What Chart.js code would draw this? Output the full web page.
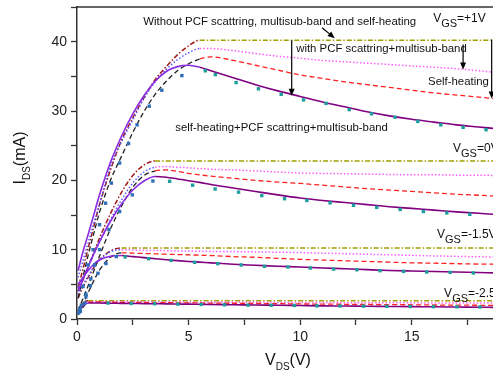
<!DOCTYPE html>
<html><head><meta charset="utf-8">
<script src="https://cdn.jsdelivr.net/npm/chart.js@4.4.1/dist/chart.umd.min.js"></script>
<style>html,body{margin:0;padding:0;background:#fff}</style>
</head><body>
<canvas id="c" width="493" height="376"></canvas>
<script>
// ---- data ----
const xGrid = [0.05,0.25,0.5,0.75,1,1.5,2,2.5,3,3.5,4,4.5,5,5.5,6,7,8,9,10,11,12,13,14,15,16,17,18,18.64];

// VGS = +1 V
const ideal_p1 = [4.5,7.0,10.2,13.3,16.4,21.5,25.8,29.0,31.9,34.5,36.4,38.1,39.4,40.2,40.2,40.2,40.2,40.2,40.2,40.2,40.2,40.2,40.2,40.2,40.2,40.2,40.2,40.2];
const pcf_p1   = [6.0,8.2,11.0,13.8,16.5,22.0,25.6,28.7,31.8,34.2,36.0,37.4,38.4,39.0,39.0,38.7,38.3,37.9,37.6,37.3,37.1,36.9,36.7,36.5,36.3,36.1,35.8,35.6];
const heat_p1  = [3.0,5.8,9.2,12.3,15.3,20.0,23.5,26.9,29.9,32.4,34.3,35.8,36.8,37.5,37.8,37.3,36.6,35.9,35.2,34.7,34.2,33.8,33.4,33.0,32.6,32.3,32.0,31.8];
const full_p1  = [7.0,9.5,12.2,15.0,17.8,22.6,26.4,29.6,32.2,34.3,35.7,36.4,36.6,36.3,35.8,34.8,33.8,32.9,32.1,31.3,30.6,29.9,29.3,28.8,28.4,28.0,27.7,27.5];
// VGS = 0 V
const ideal_0 = [4.0,5.5,7.5,9.6,11.6,15.2,18.3,20.7,22.2,22.8,22.8,22.8,22.8,22.8,22.8,22.8,22.8,22.8,22.8,22.8,22.8,22.8,22.8,22.8,22.8,22.8,22.8,22.8];
const pcf_0   = [4.5,5.8,7.5,9.3,11.0,14.3,17.2,19.6,21.2,21.9,22.0,21.9,21.8,21.7,21.6,21.5,21.35,21.2,21.05,21.0,20.95,20.9,20.85,20.8,20.8,20.75,20.75,20.7];
const heat_0  = [1.2,2.8,4.8,6.9,9.0,13.0,16.3,19.0,20.7,21.35,21.5,21.3,21.0,20.8,20.6,20.3,20.0,19.75,19.55,19.3,19.05,18.8,18.6,18.4,18.2,18.0,17.85,17.75];
const full_0  = [4.0,5.6,7.5,9.4,11.1,14.1,16.6,18.6,19.9,20.55,20.45,20.2,19.95,19.7,19.4,18.9,18.4,17.9,17.45,17.1,16.8,16.5,16.2,15.95,15.7,15.45,15.25,15.1];
// VGS = -1.5 V
const ideal_m15 = [3.0,4.5,6.0,7.4,8.5,9.8,10.25,10.25,10.25,10.25,10.25,10.25,10.25,10.25,10.25,10.25,10.25,10.25,10.25,10.25,10.25,10.25,10.25,10.25,10.25,10.25,10.25,10.25];
const pcf_m15   = [3.5,4.8,6.2,7.5,8.5,9.7,10.0,9.95,9.9,9.88,9.85,9.82,9.8,9.78,9.75,9.72,9.68,9.63,9.58,9.5,9.42,9.34,9.26,9.18,9.1,9.03,8.97,8.95];
const heat_m15  = [0.8,2.0,3.8,5.5,7.0,8.9,9.55,9.5,9.45,9.4,9.35,9.3,9.25,9.2,9.15,9.0,8.9,8.75,8.6,8.5,8.4,8.3,8.2,8.1,8.05,7.98,7.92,7.9];
const full_m15  = [5.0,5.9,7.0,7.9,8.5,9.05,9.15,9.0,8.85,8.7,8.55,8.42,8.3,8.2,8.1,7.9,7.75,7.6,7.5,7.35,7.25,7.12,7.0,6.92,6.85,6.77,6.7,6.65];
// VGS = -2.5 V
const ideal_m25 = [1.3,2.3,2.64,2.64,2.64,2.64,2.64,2.64,2.64,2.64,2.64,2.64,2.64,2.64,2.64,2.64,2.64,2.64,2.64,2.64,2.64,2.64,2.64,2.64,2.64,2.64,2.64,2.64];
const pcf_m25   = [1.2,2.0,2.45,2.5,2.5,2.49,2.48,2.47,2.46,2.45,2.45,2.44,2.43,2.42,2.42,2.41,2.4,2.39,2.38,2.37,2.36,2.35,2.34,2.33,2.32,2.31,2.3,2.3];
const heat_m25  = [0.6,1.6,2.4,2.45,2.45,2.42,2.4,2.39,2.38,2.36,2.35,2.34,2.33,2.31,2.29,2.27,2.24,2.21,2.17,2.15,2.12,2.1,2.07,2.05,2.02,2.0,1.98,1.96];
const full_m25  = [1.0,1.9,2.3,2.3,2.3,2.28,2.26,2.24,2.22,2.2,2.18,2.16,2.14,2.12,2.1,2.06,2.02,1.98,1.94,1.9,1.87,1.84,1.81,1.78,1.76,1.73,1.7,1.68];

// measured points [Vds, Ids]
const meas_p1 = [[0.12,1.3],[0.27,4.7],[0.49,7.8],[0.72,10],[1.01,13.6],[1.28,16.7],[1.54,19.6],[1.91,22.5],[2.31,25.3],[2.69,28],[3.24,30.7],[3.8,33],[4.7,35.1],[5.75,35.8],[6.2,35.25],[7.13,34.1],[8.13,33.2],[9.15,32.4],[10.15,31.6],[11.16,31.1],[12.2,30.2],[13.2,29.6],[14.25,29.1],[15.27,28.5],[16.3,28.0],[17.3,27.65],[18.33,27.3]];
const meas_0 = [[0.15,1.2],[0.4,3.6],[0.62,5.8],[0.79,7.8],[1.01,10],[1.43,12.9],[1.91,15.5],[2.48,17.9],[3.4,19.9],[4.15,19.86],[5.18,19.3],[6.19,18.75],[7.24,18.3],[8.28,17.8],[9.3,17.35],[10.3,17.1],[11.34,16.75],[12.39,16.4],[13.43,16.1],[14.48,15.8],[15.52,15.5],[16.57,15.3],[17.6,15.1]];
const meas_m15 = [[0.15,1.1],[0.4,3.2],[0.6,4.8],[0.94,6.6],[1.3,8.0],[1.76,9.0],[2.16,8.95],[3.21,8.7],[4.22,8.45],[5.27,8.17],[6.31,7.98],[7.36,7.8],[8.4,7.6],[9.45,7.5],[10.45,7.35],[11.5,7.2],[12.54,7.1],[13.58,6.97],[14.63,6.87],[15.67,6.78],[16.72,6.72],[17.76,6.64]];
const meas_m25 = [[0.08,0.9],[0.12,1.5],[0.2,2.0],[0.35,2.3],[1.39,2.3],[2.43,2.25],[3.48,2.2],[4.52,2.15],[5.57,2.1],[6.61,2.05],[7.66,2.0],[8.7,1.98],[9.74,1.95],[10.75,1.9],[11.79,1.88],[12.84,1.85],[13.88,1.83],[14.93,1.8],[15.97,1.78],[17.02,1.76],[18.06,1.74]];

const xTicksMajor = [0,5,10,15];
const yTicksMajor = [0,10,20,30,40];

// ---- styles ----
const groups = [
  {ideal: ideal_p1, pcf: pcf_p1, heat: heat_p1, full: full_p1, meas: meas_p1, thr: 5.5},
  {ideal: ideal_0, pcf: pcf_0, heat: heat_0, full: full_0, meas: meas_0, thr: 3.5},
  {ideal: ideal_m15, pcf: pcf_m15, heat: heat_m15, full: full_m15, meas: meas_m15, thr: 1.9},
  {ideal: ideal_m25, pcf: pcf_m25, heat: heat_m25, full: full_m25, meas: meas_m25, thr: 0.5}
];

function curve(ys, c1, c2, dash, w, thr, order) {
  return {
    type: 'line',
    data: xGrid.map((x, i) => ({x: x, y: ys[i]})),
    borderColor: c2,
    borderWidth: w,
    borderDash: dash,
    pointRadius: 0,
    fill: false,
    cubicInterpolationMode: 'monotone',
    order: order,
    segment: { borderColor: ctx => (ctx.p0.parsed.x >= thr - 1e-6 ? c2 : c1) }
  };
}

const datasets = [];
groups.forEach(g => {
  datasets.push({
    type: 'scatter',
    data: g.meas.map(p => ({x: p[0], y: p[1]})),
    pointStyle: 'rect',
    pointRadius: 2.4,
    borderWidth: 0,
    pointBackgroundColor: ctx => (ctx.raw && ctx.raw.x < g.thr ? '#2f6fb8' : '#1c9c9c'),
    order: 0
  });
  datasets.push(curve(g.full, '#8a2be2', '#800080', [], 1.6, g.thr, 1));
  datasets.push(curve(g.heat, '#222222', '#ff2020', [5, 3], 1.3, g.thr, 2));
  datasets.push(curve(g.pcf, '#5a5aff', '#ff5cff', [1.5, 2], 1.5, g.thr, 3));
  datasets.push(curve(g.ideal, '#a01818', '#a0a000', [5, 2, 1.5, 2], 1.5, g.thr, 4));
});

const FONT = '"Liberation Sans", Arial, sans-serif';

const deco = {
  id: 'deco',
  afterDraw(chart) {
    const {ctx, chartArea: a, scales} = chart;
    const X = v => scales.x.getPixelForValue(v);
    const Y = v => scales.y.getPixelForValue(v);
    ctx.save();
    // top frame line
    ctx.strokeStyle = '#333'; ctx.lineWidth = 1.5;
    ctx.beginPath(); ctx.moveTo(a.left, a.top); ctx.lineTo(a.right, a.top); ctx.stroke();

    ctx.fillStyle = '#111';
    ctx.textBaseline = 'middle'; ctx.textAlign = 'left';
    ctx.font = '11.4px ' + FONT;
    ctx.fillText('Without PCF scattring, multisub-band and self-heating', X(2.97), Y(42.9));
    ctx.fillText('with PCF scattring+multisub-band', X(9.82), Y(38.9));
    ctx.fillText('Self-heating', X(15.73), Y(34.2));
    ctx.fillText('self-heating+PCF scattring+multisub-band', X(4.4), Y(27.6));

    function vgs(xv, yv, rest) {
      const px = X(xv), py = Y(yv);
      ctx.textBaseline = 'alphabetic';
      ctx.font = '12px ' + FONT;
      ctx.fillText('V', px, py);
      const w1 = ctx.measureText('V').width;
      ctx.font = '11px ' + FONT;
      ctx.fillText('GS', px + w1, py + 5);
      const w2 = ctx.measureText('GS').width;
      ctx.font = '12px ' + FONT;
      ctx.fillText(rest, px + w1 + w2, py);
    }
    vgs(15.96, 42.9, '=+1V');
    vgs(16.85, 24.1, '=0V');
    vgs(16.13, 11.7, '=-1.5V');
    vgs(16.45, 3.2, '=-2.5V');

    function arrow(x0, y0, x1, y1) {
      const ax = X(x0), ay = Y(y0), bx = X(x1), by = Y(y1);
      const ang = Math.atan2(by - ay, bx - ax);
      const L = 7, W = 3;
      ctx.strokeStyle = '#000'; ctx.fillStyle = '#000'; ctx.lineWidth = 1.2;
      ctx.beginPath(); ctx.moveTo(ax, ay);
      ctx.lineTo(bx - L * 0.8 * Math.cos(ang), by - L * 0.8 * Math.sin(ang)); ctx.stroke();
      ctx.beginPath();
      ctx.moveTo(bx, by);
      ctx.lineTo(bx - L * Math.cos(ang) + W * Math.sin(ang), by - L * Math.sin(ang) - W * Math.cos(ang));
      ctx.lineTo(bx - L * Math.cos(ang) - W * Math.sin(ang), by - L * Math.sin(ang) + W * Math.cos(ang));
      ctx.closePath(); ctx.fill();
    }
    arrow(10.98, 42.0, 11.55, 40.5);
    arrow(9.62, 40.2, 9.62, 32.2);
    arrow(17.3, 39.6, 17.3, 36.0);
    arrow(18.58, 40.3, 18.58, 31.8);

    // axis titles
    ctx.fillStyle = '#111';
    ctx.textBaseline = 'alphabetic';
    function title(parts, cx, cy, rot) {
      ctx.save();
      ctx.translate(cx, cy); ctx.rotate(rot);
      let tot = 0;
      parts.forEach(p => { ctx.font = p[1] + 'px ' + FONT; tot += ctx.measureText(p[0]).width; });
      let x = -tot / 2;
      parts.forEach(p => { ctx.font = p[1] + 'px ' + FONT; ctx.fillText(p[0], x, p[2]); x += ctx.measureText(p[0]).width; });
      ctx.restore();
    }
    title([['I', 16, 0], ['DS', 10, 5], ['(mA)', 16, 0]], 25, 158, -Math.PI / 2);
    title([['V', 16, 0], ['DS', 10, 5], ['(V)', 16, 0]], 288, 365, 0);
    ctx.restore();
  }
};

function noPad(s) { s.paddingTop = 0; s.paddingBottom = 0; s.paddingLeft = 0; s.paddingRight = 0; }

new Chart(document.getElementById('c'), {
  data: { datasets },
  options: {
    responsive: false,
    animation: false,
    devicePixelRatio: 1,
    layout: { autoPadding: false, padding: { top: 7, right: 0, left: 0, bottom: 0 } },
    plugins: { legend: { display: false }, tooltip: { enabled: false } },
    scales: {
      x: {
        type: 'linear', min: 0, max: 18.64,
        afterFit: s => { s.height = 57; noPad(s); },
        ticks: { stepSize: 2.5, includeBounds: false, autoSkip: false, maxRotation: 0, padding: 4,
          color: '#222', font: { size: 14, family: FONT },
          callback: v => (xTicksMajor.includes(v) ? String(v) : '') },
        grid: { drawOnChartArea: false, drawTicks: true, tickLength: 6, tickColor: '#333', tickWidth: 1.3 },
        border: { display: true, color: '#333', width: 1.5 }
      },
      y: {
        type: 'linear', min: 0, max: 45,
        afterFit: s => { s.width = 77; noPad(s); },
        ticks: { stepSize: 5, includeBounds: false, autoSkip: false, padding: 4,
          color: '#222', font: { size: 14, family: FONT },
          callback: v => (yTicksMajor.includes(v) ? String(v) : '') },
        grid: { drawOnChartArea: false, drawTicks: true, tickLength: 6, tickColor: '#333', tickWidth: 1.3 },
        border: { display: true, color: '#333', width: 1.5 }
      }
    }
  },
  plugins: [deco]
});
</script>
</body></html>
